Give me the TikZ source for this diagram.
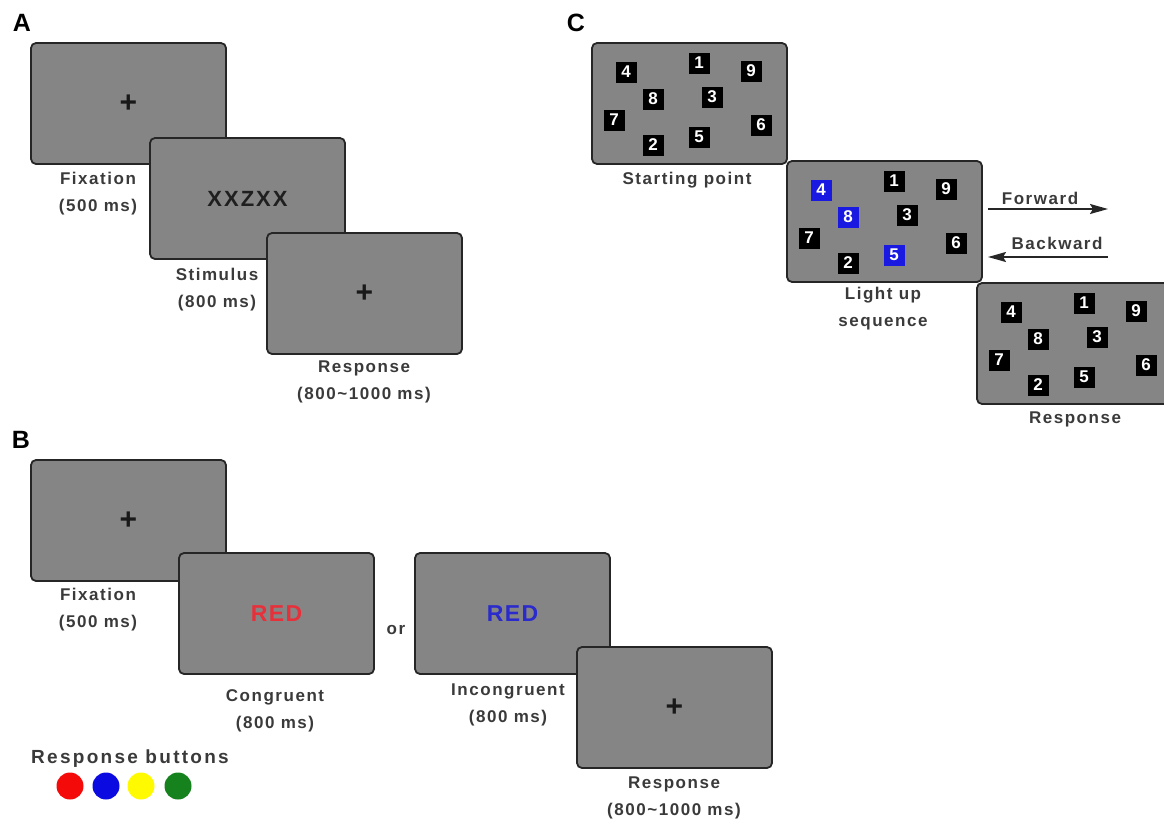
\documentclass[tikz,border=0pt]{standalone}
\usepackage{fontspec}
\setmainfont{Liberation Sans}
\newfontfamily\lblfont{Liberation Sans}[LetterSpace=9]
\newfontfamily\wordfont{Liberation Sans}[LetterSpace=6]
\newfontfamily\keyfont{Liberation Sans}[LetterSpace=12]
\usetikzlibrary{calc,arrows.meta}

\definecolor{screengray}{RGB}{133,133,133}
\definecolor{edge}{RGB}{38,38,38}
\definecolor{ink}{RGB}{58,58,58}
\definecolor{wordred}{RGB}{232,48,58}
\definecolor{wordblue}{RGB}{42,42,205}
\definecolor{litblue}{RGB}{25,25,225}
\definecolor{btnred}{RGB}{245,10,10}
\definecolor{btnblue}{RGB}{10,10,225}
\definecolor{btnyellow}{RGB}{255,250,0}
\definecolor{btngreen}{RGB}{22,130,30}

\begin{document}
\begin{tikzpicture}[x=1pt,y=-1pt,
  screen/.style={draw=edge, fill=screengray, line width=1.8pt, rounded corners=5pt,
    minimum width=195pt, minimum height=121pt, anchor=north west,
    inner sep=0pt, outer sep=0pt},
  caption/.style={font=\lblfont\bfseries\fontsize{17}{27}\selectfont, text=ink, align=center, inner sep=0pt},
  panel/.style={font=\bfseries\fontsize{25}{25}\selectfont, text=black, inner sep=0pt},
  cross/.style={font=\bfseries\fontsize{30}{30}\selectfont, text=black!90},
  word/.style={font=\wordfont\bfseries\fontsize{23}{23}\selectfont},
  sqblack/.style={fill=black, minimum size=21pt, inner sep=0pt, text=white,
    font=\bfseries\fontsize{17}{17}\selectfont},
  sqblue/.style={sqblack, fill=litblue},
  btn/.style={circle, minimum size=27pt, inner sep=0pt},
  flow/.style={line width=1.8pt, draw=black!85, -{Stealth[length=18pt,width=10pt,inset=3pt]}}
]
\useasboundingbox (0,0) rectangle (1164,819);

% ---------------- Panel A: flanker task ----------------
\node[panel] (pA) at (22,23) {A};
\node[screen, cross] (a1) at (31,43) {+};
\node[screen, font=\lblfont\bfseries\fontsize{22}{22}\selectfont, text=black!88] (a2) at (150,138) {XXZXX};
\node[screen, cross] (a3) at (267,233) {+};
\node[caption] (a1-cap) at (98,194) {Fixation\\(500 ms)};
\node[caption] (a2-cap) at (217,290) {Stimulus\\(800 ms)};
\node[caption] (a3-cap) at (364,382) {Response\\(800\textasciitilde1000 ms)};

% ---------------- Panel B: Stroop task ----------------
\node[panel] (pB) at (21,440) {B};
\node[screen, cross] (b1) at (31,460) {+};
\node[screen, word, text=wordred] (b2) at (179,553) {RED};
\node[caption] (or) at (396,630) {or};
\node[screen, word, text=wordblue] (b3) at (415,553) {RED};
\node[screen, cross] (b4) at (577,647) {+};
\node[caption] (b1-cap) at (98,610) {Fixation\\(500 ms)};
\node[caption] (b2-cap) at (275,711) {Congruent\\(800 ms)};
\node[caption] (b3-cap) at (508,705) {Incongruent\\(800 ms)};
\node[caption] (b4-cap) at (674,798) {Response\\(800\textasciitilde1000 ms)};

\node[caption, font=\keyfont\bfseries\fontsize{19}{19}\selectfont] (btn-cap) at (130,759) {Response buttons};
\node[btn, fill=btnred]    (btn-r) at (70,786)  {};
\node[btn, fill=btnblue]   (btn-b) at (106,786) {};
\node[btn, fill=btnyellow] (btn-y) at (141,786) {};
\node[btn, fill=btngreen]  (btn-g) at (178,786) {};

% ---------------- Panel C: Corsi block task ----------------
\node[panel] (pC) at (576,23) {C};
\node[screen] (c1) at (592,43) {};
\node[screen] (c2) at (787,161) {};
\node[screen] (c3) at (977,283) {};

\foreach \bx/\hl in {c1/0, c2/1, c3/0} {
  \foreach \d/\px/\py/\lit in {4/34/29/1, 1/107/20/0, 9/159/28/0, 8/61/56/1,
      3/120/54/0, 7/22/77/0, 6/169/82/0, 5/107/94/1, 2/61/102/0} {
    \pgfmathtruncatemacro\isblue{\hl*\lit}
    \ifnum\isblue=1 \def\sqstyle{sqblue}\else\def\sqstyle{sqblack}\fi
    \node[\sqstyle] (\bx-\d) at ($(\bx.north west)+(\px,\py)$) {\d};
  }
}

\node[caption] (c1-cap) at (687,180) {Starting point};
\node[caption] (c2-cap) at (883,309) {Light up\\sequence};
\node[caption] (c3-cap) at (1075,419) {Response};

\coordinate (fwd-s) at (988,209);
\coordinate (fwd-e) at (1108,209);
\coordinate (bwd-s) at (1108,257);
\coordinate (bwd-e) at (988,257);
\draw[flow] (fwd-s) -- (fwd-e);
\draw[flow] (bwd-s) -- (bwd-e);
\node[caption] (fwd) at (1040,198) {Forward};
\node[caption] (bwd) at (1057,243) {Backward};
\end{tikzpicture}
\end{document}
